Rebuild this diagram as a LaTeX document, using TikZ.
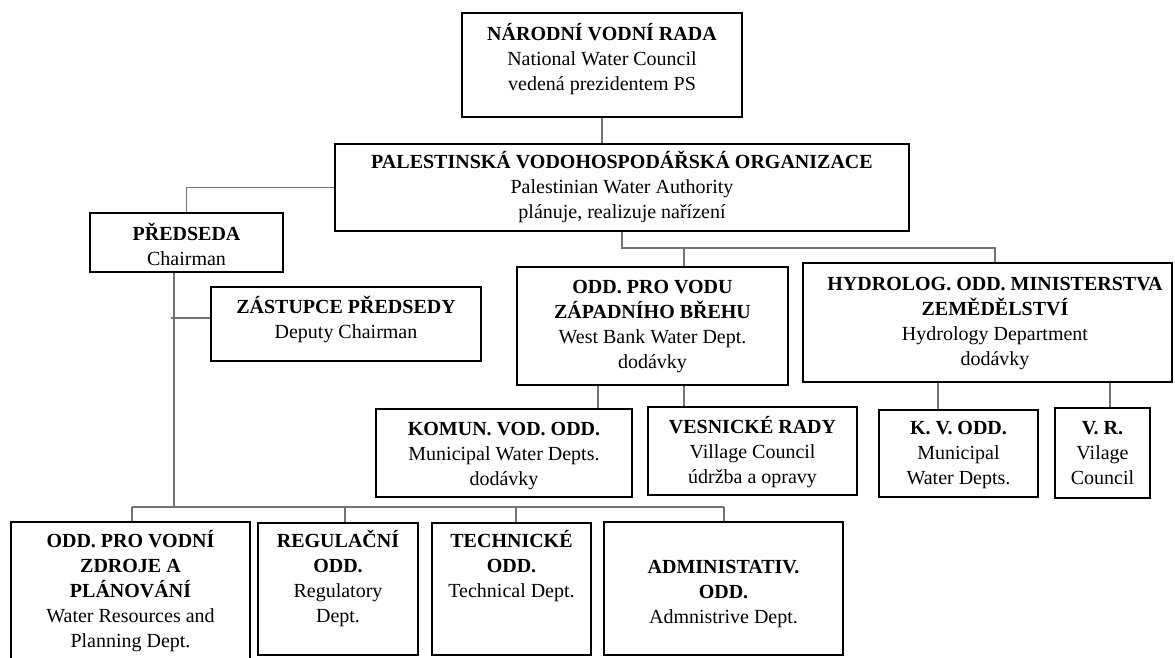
\documentclass[tikz,border=0pt]{standalone}
\usepackage{fontspec}
\setmainfont{Liberation Serif}
\newcommand\ms{\rule[-6pt]{0pt}{25pt}}
\begin{document}
\begin{tikzpicture}[x=1pt,y=-1pt,
  box/.style={draw=black, line width=1.3pt, inner sep=0pt},
  conn/.style={draw=black!55, line width=1.3pt},
  txt/.style={align=center, inner sep=0pt, anchor=north, font=\fontsize{20}{25}\selectfont}]
\useasboundingbox (0,0) rectangle (1175,658);
\clip (0,0) rectangle (1175,658);
% boxes
\node[box, minimum width=280pt, minimum height=104pt] (nvr) at (602,65) {};
\node[box, minimum width=574pt, minimum height=87pt] (pwa) at (622,187.5) {};
\node[box, minimum width=193pt, minimum height=59pt] (pred) at (186.5,242.5) {};
\node[box, minimum width=270pt, minimum height=74pt] (zast) at (346,324) {};
\node[box, minimum width=271pt, minimum height=118pt] (wb) at (652.5,326) {};
\node[box, minimum width=369pt, minimum height=119pt] (hyd) at (987.5,322.5) {};
\node[box, minimum width=256pt, minimum height=88pt] (komun) at (504,453) {};
\node[box, minimum width=209pt, minimum height=88pt] (vesn) at (752.5,451) {};
\node[box, minimum width=159pt, minimum height=87pt] (kv) at (958.5,453.5) {};
\node[box, minimum width=95pt, minimum height=90pt] (vr) at (1102.5,453) {};
\node[box, minimum width=239pt, minimum height=158pt] (zdroje) at (130.5,601) {};
\node[box, minimum width=160pt, minimum height=132pt] (regul) at (338,589) {};
\node[box, minimum width=159pt, minimum height=132pt] (tech) at (511.5,589) {};
\node[box, minimum width=239pt, minimum height=133pt] (admin) at (723.5,588.5) {};
% texts
\node[txt] (nvr-t) at (602,21) {\ms\textbf{NÁRODNÍ VODNÍ RADA}\\\ms National Water Council\\\ms vedená prezidentem PS};
\node[txt] (pwa-t) at (622,149) {\ms\textbf{PALESTINSKÁ VODOHOSPODÁŘSKÁ ORGANIZACE}\\\ms Palestinian Water Authority\\\ms plánuje, realizuje nařízení};
\node[txt] (pred-t) at (186.5,221) {\ms\textbf{PŘEDSEDA}\\\ms Chairman};
\node[txt] (zast-t) at (346,294) {\ms\textbf{ZÁSTUPCE PŘEDSEDY}\\\ms Deputy Chairman};
\node[txt] (wb-t) at (652.5,274) {\ms\textbf{ODD. PRO VODU}\\\ms\textbf{ZÁPADNÍHO BŘEHU}\\\ms West Bank Water Dept.\\\ms dodávky};
\node[txt] (hyd-t) at (995,271) {\ms\textbf{HYDROLOG. ODD. MINISTERSTVA}\\\ms\textbf{ZEMĚDĚLSTVÍ}\\\ms Hydrology Department\\\ms dodávky};
\node[txt] (komun-t) at (504,416) {\ms\textbf{KOMUN. VOD. ODD.}\\\ms Municipal Water Depts.\\\ms dodávky};
\node[txt] (vesn-t) at (752.5,414) {\ms\textbf{VESNICKÉ RADY}\\\ms Village Council\\\ms údržba a opravy};
\node[txt] (kv-t) at (958.5,415) {\ms\textbf{K. V. ODD.}\\\ms Municipal\\\ms Water Depts.};
\node[txt] (vr-t) at (1102.5,415) {\ms\textbf{V. R.}\\\ms Vilage\\\ms Council};
\node[txt] (zdroje-t) at (130.5,528) {\ms\textbf{ODD. PRO VODNÍ}\\\ms\textbf{ZDROJE A}\\\ms\textbf{PLÁNOVÁNÍ}\\\ms Water Resources and\\\ms Planning Dept.};
\node[txt] (regul-t) at (338,528) {\ms\textbf{REGULAČNÍ}\\\ms\textbf{ODD.}\\\ms Regulatory\\\ms Dept.};
\node[txt] (tech-t) at (511.5,528) {\ms\textbf{TECHNICKÉ}\\\ms\textbf{ODD.}\\\ms Technical Dept.};
\node[txt] (admin-t) at (723.5,554) {\ms\textbf{ADMINISTATIV.}\\\ms\textbf{ODD.}\\\ms Admnistrive Dept.};
% helper coordinates
\coordinate (cv) at (174,507);
\coordinate (zj) at (171,318);
\coordinate (h2) at (995,248);
\coordinate (h3) at (684,248);
\coordinate (k1) at (598,0);
\coordinate (v1) at (684,0);
\coordinate (kv1) at (938,0);
\coordinate (vr1) at (1110,0);
\coordinate (busL) at (132,507);
\coordinate (b2) at (345,507);
\coordinate (b3) at (516,507);
\coordinate (busR) at (724,507);
% connectors
\draw[conn] (nvr.south) -- (pwa.north -| nvr.south);
\draw[conn] (pwa.west) -| (pred.north);
\draw[conn] (pred.south -| cv) -- (cv);
\draw[conn] (zj) -- (zj -| zast.west);
\draw[conn] (pwa.south) -- (pwa.south |- h2) -- (h2) -- (h2 |- hyd.north);
\draw[conn] (h3) -- (h3 |- wb.north);
\draw[conn] (wb.south -| k1) -- (komun.north -| k1);
\draw[conn] (wb.south -| v1) -- (vesn.north -| v1);
\draw[conn] (hyd.south -| kv1) -- (kv.north -| kv1);
\draw[conn] (hyd.south -| vr1) -- (vr.north -| vr1);
\draw[conn] (busL) -- (busR);
\draw[conn] (busL) -- (zdroje.north -| busL);
\draw[conn] (b2) -- (regul.north -| b2);
\draw[conn] (b3) -- (tech.north -| b3);
\draw[conn] (busR) -- (admin.north -| busR);
\end{tikzpicture}
\end{document}
